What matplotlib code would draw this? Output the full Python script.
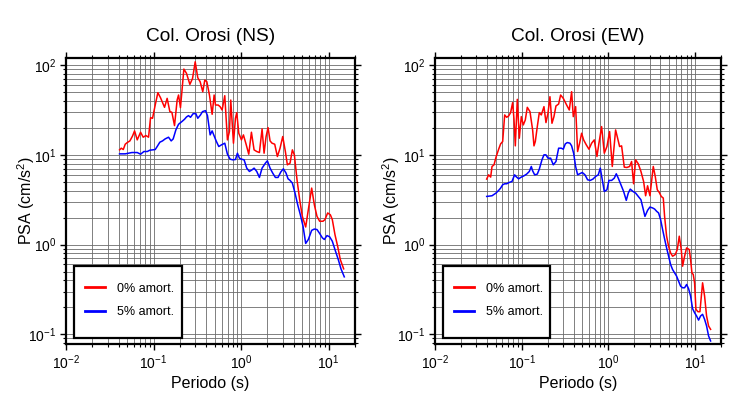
import numpy as np
import matplotlib
matplotlib.use("Agg")
import matplotlib.pyplot as plt
from matplotlib.ticker import LogLocator, NullFormatter
from matplotlib.patches import Rectangle

plt.rcParams['font.family'] = ['Liberation Sans', 'DejaVu Sans']
plt.rcParams['mathtext.fontset'] = 'custom'
plt.rcParams['mathtext.rm'] = 'Liberation Sans'
plt.rcParams['mathtext.it'] = 'Liberation Sans:italic'
plt.rcParams['mathtext.bf'] = 'Liberation Sans:bold'

# ---------------- data ----------------
titles = ["Col. Orosi (NS)", "Col. Orosi (EW)"]
legend_labels = ["0% amort.", "5% amort."]

ns_t0 = [0.0409, 0.0428, 0.0451, 0.0475, 0.0501, 0.0537, 0.0576, 0.0607, 0.0651, 0.0711,
         0.0762, 0.0818, 0.0877, 0.0924, 0.0974, 0.1045, 0.112, 0.120, 0.1335, 0.143,
         0.1536, 0.162, 0.1736, 0.186, 0.193, 0.203, 0.222, 0.238, 0.260, 0.279,
         0.299, 0.320, 0.3405, 0.365, 0.385, 0.406, 0.435, 0.467, 0.492, 0.510,
         0.547, 0.576, 0.607, 0.651, 0.698, 0.736, 0.762, 0.818, 0.862, 0.892,
         0.941, 1.009, 1.063, 1.14, 1.223, 1.312, 1.407, 1.509, 1.619, 1.736,
         1.83, 1.929, 2.032, 2.142, 2.258, 2.421, 2.597, 2.786, 2.988, 3.204,
         3.377, 3.622, 3.852, 4.058, 4.353, 4.669, 5.008, 5.467, 5.862, 6.398,
         6.864, 7.362, 7.896, 8.618, 9.082, 9.741, 10.45, 11.01, 11.81, 12.67,
         13.59, 14.84]
ns_psa0 = [11.36, 11.86, 11.46, 13.14, 13.71, 14.3, 16.26, 18.48, 14.68, 17.86,
           15.72, 16.40, 15.72, 25.98, 25.55, 35.94, 49.27, 43.36, 33.85, 42.62,
           30.30, 29.79, 21.18, 40.84, 46.42, 33.56, 90.3, 80.8, 61.0, 71.1,
           108.9, 72.3, 65.3, 50.5, 68.1, 65.3, 46.4, 28.3, 46.4, 35.9,
           35.9, 34.4, 31.6, 45.6, 14.68, 18.2, 40.8, 13.48, 25.55, 29.5,
           17.41, 14.68, 16.68, 13.14, 10.17, 17.86, 11.36, 10.89, 10.61, 19.45,
           10.43, 15.99, 20.12, 14.3, 13.48, 13.14, 9.58, 11.86, 15.99, 10.89,
           7.74, 8.08, 11.36, 10.0, 5.27, 3.16, 2.06, 1.57, 2.45, 4.26,
           2.78, 2.06, 1.82, 1.82, 1.90, 2.25, 2.15, 1.90, 1.29, 0.958,
           0.681, 0.537]

ns_t5 = [0.0409, 0.0475, 0.0566, 0.0651, 0.0711, 0.0776, 0.0847, 0.0908, 0.0974, 0.1045,
         0.110, 0.118, 0.1266, 0.1358, 0.1483, 0.159, 0.1676, 0.1798, 0.193, 0.2104,
         0.2257, 0.238, 0.2507, 0.2643, 0.2835, 0.304, 0.320, 0.3437, 0.3622, 0.3919,
         0.413, 0.443, 0.467, 0.4836, 0.5186, 0.556, 0.5965, 0.651, 0.698, 0.749,
         0.803, 0.862, 0.908, 0.957, 1.009, 1.082, 1.16, 1.245, 1.335, 1.407,
         1.509, 1.619, 1.736, 1.895, 1.997, 2.142, 2.297, 2.464, 2.642, 2.835,
         3.04, 3.261, 3.437, 3.622, 3.852, 4.13, 4.43, 4.75, 5.10, 5.467,
         5.862, 6.398, 6.864, 7.362, 7.896, 8.47, 8.93, 9.57, 10.27, 11.01,
         11.81, 12.89, 13.83, 15.09]
ns_psa5 = [10.26, 10.26, 10.61, 10.61, 10.17, 10.89, 10.89, 11.27, 11.36, 11.46,
           12.38, 13.83, 14.3, 15.06, 15.72, 14.3, 15.06, 18.95, 21.91, 23.46,
           24.91, 26.44, 27.35, 26.21, 28.8, 28.8, 25.55, 27.83, 30.3, 31.09,
           27.35, 16.68, 18.48, 16.97, 14.3, 12.38, 12.92, 13.48, 10.17, 8.95,
           8.80, 8.87, 10.43, 9.18, 8.95, 8.80, 7.11, 6.53, 6.81, 7.11,
           6.53, 5.60, 7.11, 8.08, 8.58, 7.11, 6.26, 5.60, 5.60, 6.42,
           6.99, 6.26, 5.41, 5.19, 4.84, 3.75, 2.78, 2.15, 1.60, 1.03,
           1.14, 1.44, 1.49, 1.47, 1.33, 1.19, 1.14, 1.26, 1.22, 1.09,
           0.88, 0.68, 0.537, 0.437]

ew_t0 = [0.0395, 0.0416, 0.0439, 0.0455, 0.0480, 0.0506, 0.0543, 0.0572, 0.0604, 0.0637,
         0.0671, 0.0708, 0.0746, 0.0787, 0.0816, 0.0845, 0.0891, 0.0940, 0.0991, 0.1045,
         0.1102, 0.1162, 0.1248, 0.1339, 0.1388, 0.1438, 0.1516, 0.1599, 0.1686, 0.1810,
         0.1909, 0.2013, 0.2122, 0.2239, 0.2360, 0.2489, 0.2673, 0.2818, 0.3025, 0.3305,
         0.3548, 0.3775, 0.3946, 0.4199, 0.4426, 0.4668, 0.4923, 0.5193, 0.5574, 0.5983,
         0.6423, 0.6893, 0.7400, 0.7803, 0.8377, 0.8993, 0.9652, 1.036, 1.112, 1.215,
         1.282, 1.351, 1.425, 1.530, 1.642, 1.763, 1.858, 1.960, 2.067, 2.219,
         2.382, 2.557, 2.697, 2.843, 3.026, 3.305, 3.485, 3.677, 3.877, 4.089,
         4.312, 4.467, 4.711, 4.968, 5.239, 5.525, 5.932, 6.255, 6.597, 6.957,
         7.208, 7.601, 8.016, 8.603, 8.913, 9.235, 9.568, 9.912, 10.27, 10.83,
         11.42, 12.26, 12.93, 13.63, 14.38, 15.17]
ew_psa0 = [5.37, 5.99, 5.65, 7.42, 7.74, 9.42, 11.56, 13.25, 14.07, 27.83,
           26.21, 27.13, 29.53, 38.14, 24.91, 12.59, 41.54, 15.32, 26.66, 21.54,
           24.48, 33.85, 30.30, 18.95, 12.59, 14.07, 20.64, 29.53, 27.83, 34.44,
           22.87, 29.04, 44.48, 22.48, 26.66, 35.04, 36.87, 46.42, 42.62, 35.94,
           31.62, 50.54, 26.66, 34.44, 10.89, 13.48, 17.41, 14.68, 12.92, 11.56,
           13.48, 14.68, 9.58, 13.48, 20.64, 10.43, 12.38, 18.17, 7.42, 18.95,
           15.32, 12.38, 12.59, 7.29, 7.23, 7.42, 8.43, 4.76, 8.80, 7.94,
           6.53, 5.05, 3.50, 4.52, 3.50, 7.42, 5.74, 4.08, 3.81, 3.44,
           3.30, 2.06, 1.24, 0.958, 0.808, 0.742, 0.774, 0.880, 1.24, 0.880,
           0.574, 0.742, 0.918, 0.880, 0.681, 0.484, 0.464, 0.375, 0.190, 0.1786,
           0.1786, 0.375, 0.2667, 0.160, 0.1238, 0.1136]

ew_t5 = [0.0395, 0.0455, 0.0506, 0.0543, 0.0572, 0.0604, 0.0637, 0.0671, 0.0721, 0.0774,
         0.0801, 0.0830, 0.0860, 0.0923, 0.0991, 0.1064, 0.1142, 0.1226, 0.1293, 0.1339,
         0.1413, 0.1516, 0.1599, 0.1716, 0.1810, 0.1909, 0.2013, 0.2161, 0.2319, 0.2489,
         0.2673, 0.2870, 0.3025, 0.3190, 0.3364, 0.3611, 0.3775, 0.3981, 0.4199, 0.4426,
         0.4668, 0.5012, 0.5381, 0.5776, 0.6199, 0.6653, 0.7142, 0.7666, 0.8087, 0.8528,
         0.8993, 0.9652, 1.018, 1.093, 1.173, 1.237, 1.304, 1.400, 1.503, 1.613,
         1.701, 1.794, 1.926, 2.067, 2.219, 2.382, 2.512, 2.649, 2.843, 3.026,
         3.248, 3.424, 3.613, 3.808, 4.016, 4.237, 4.467, 4.711, 4.968, 5.239,
         5.525, 5.828, 6.145, 6.479, 6.834, 7.208, 7.601, 8.016, 8.453, 8.913,
         9.400, 9.912, 10.45, 11.02, 11.62, 12.26, 12.93, 13.63, 14.38, 15.17]
ew_psa5 = [3.44, 3.50, 3.75, 4.02, 4.26, 4.64, 4.76, 4.76, 4.93, 5.05,
           5.50, 5.99, 5.74, 5.41, 5.65, 5.84, 6.10, 6.53, 7.42, 6.64,
           5.99, 6.10, 6.93, 8.80, 10.0, 10.0, 9.18, 9.18, 7.74, 8.43,
           11.86, 11.86, 11.56, 13.25, 13.71, 13.48, 12.59, 10.43, 7.42, 5.99,
           6.15, 6.36, 5.99, 5.27, 5.19, 5.37, 5.74, 5.99, 7.11, 5.27,
           3.91, 4.08, 5.19, 5.19, 5.50, 6.15, 5.50, 4.64, 3.91, 3.11,
           3.75, 4.15, 3.91, 3.75, 3.44, 3.16, 2.56, 2.06, 2.41, 2.62,
           2.56, 2.49, 2.35, 2.25, 1.90, 1.47, 1.156, 0.918, 0.742, 0.600,
           0.527, 0.484, 0.445, 0.391, 0.344, 0.330, 0.330, 0.359, 0.322, 0.2667,
           0.193, 0.174, 0.160, 0.144, 0.160, 0.167, 0.147, 0.124, 0.0958, 0.0843]

panels = [(ns_t0, ns_psa0, ns_t5, ns_psa5), (ew_t0, ew_psa0, ew_t5, ew_psa5)]

# ---------------- figure ----------------
fig = plt.figure(figsize=(7.3, 4.0), dpi=100)
positions = [[66/730, 56/400, 289/730, 286/400],
             [435/730, 56/400, 286/730, 286/400]]
ylabel_x = [-0.102, -0.117]

for pos, title, (t0, p0, t5, p5), ylx in zip(positions, titles, panels, ylabel_x):
    ax = fig.add_axes(pos)
    l0, = ax.plot(t0, p0, color='#ff0000', lw=1.1, label=legend_labels[0])
    l5, = ax.plot(t5, p5, color='#0000ff', lw=1.1, label=legend_labels[1])
    ax.set_xscale('log')
    ax.set_yscale('log')
    ax.set_xlim(0.01, 20)
    ax.set_ylim(0.078, 120)
    ax.xaxis.set_major_locator(LogLocator(base=10, numticks=10))
    ax.yaxis.set_major_locator(LogLocator(base=10, numticks=10))
    ax.xaxis.set_minor_locator(LogLocator(base=10, subs=np.arange(2, 10), numticks=20))
    ax.yaxis.set_minor_locator(LogLocator(base=10, subs=np.arange(2, 10), numticks=20))
    ax.xaxis.set_minor_formatter(NullFormatter())
    ax.yaxis.set_minor_formatter(NullFormatter())
    ax.grid(which='both', color='0.42', lw=0.6)
    ax.set_axisbelow(True)
    ax.tick_params(which='both', direction='out', top=True, right=True,
                   labelsize=10, colors='black')
    ax.tick_params(which='major', length=4, width=1.0, pad=3)
    ax.tick_params(which='minor', length=2, width=0.8)
    for s in ax.spines.values():
        s.set_linewidth(1.6)
    ax.set_title(title, fontsize=13.8, pad=12)
    ax.set_xlabel('Periodo (s)', fontsize=11.5, labelpad=3)
    ax.set_ylabel('PSA (cm/s$^2$)', fontsize=11.5)
    ax.yaxis.set_label_coords(ylx, 0.5)

    # legend box
    box = Rectangle((0.028, 0.021), 0.373, 0.252, transform=ax.transAxes,
                    facecolor='white', edgecolor='black', lw=1.6, zorder=4.5)
    ax.add_patch(box)
    leg = ax.legend(handles=[l0, l5], loc='upper left',
                    bbox_to_anchor=(0.0176, 0.2625), borderaxespad=0,
                    frameon=False, fontsize=9, handlelength=1.65,
                    handletextpad=0.9, labelspacing=0.93, borderpad=1.1)
    leg.set_zorder(5)
    for h in leg.legend_handles:
        h.set_linewidth(2.0)

fig.savefig('out.png', dpi=100)
